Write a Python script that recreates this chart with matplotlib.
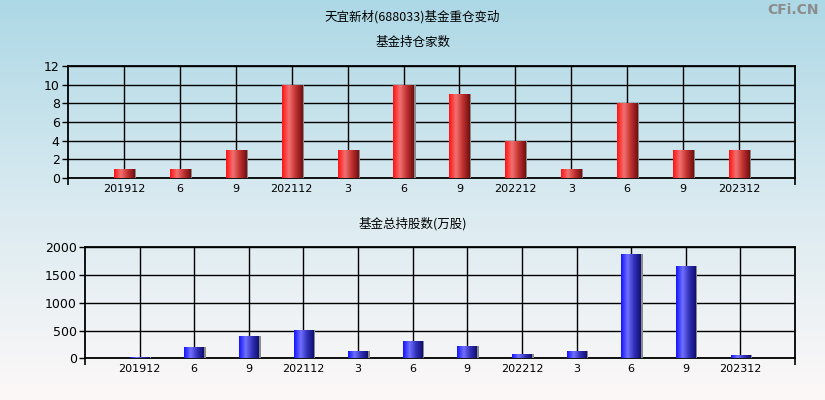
import matplotlib.pyplot as plt
import numpy as np
from matplotlib.colors import LinearSegmentedColormap

plt.rcParams['font.family'] = ['Noto Sans CJK SC', 'DejaVu Sans']

# Data
labels = ['201912', '6', '9', '202112', '3', '6', '9', '202212', '3', '6', '9', '202312']
fund_count = [1, 1, 3, 10, 3, 10, 9, 4, 1, 8, 3, 3]
fund_shares = [25, 210, 400, 510, 130, 310, 220, 75, 130, 1880, 1665, 55]

red_cmap = LinearSegmentedColormap.from_list('r', ['#ff1414', '#f27070', '#c03030', '#701010'])
blue_cmap = LinearSegmentedColormap.from_list('b', ['#1414ff', '#7070ff', '#3030b8', '#101070'])

fig = plt.figure(figsize=(8.25, 4), dpi=100)

# background gradient
bg = fig.add_axes([0, 0, 1, 1], zorder=-10)
grad = np.linspace(0, 1, 256).reshape(-1, 1)
bg_cmap = LinearSegmentedColormap.from_list('bg', ['#add8e6', '#d9eaf0', '#fdf8f8'])
bg.imshow(grad, aspect='auto', cmap=bg_cmap, extent=[0, 1, 0, 1])
bg.axis('off')

fig.text(0.5, 0.957, '天宜新材(688033)基金重仓变动', ha='center', va='center', fontsize=9)
fig.text(0.5, 0.893, '基金持仓家数', ha='center', va='center', fontsize=9)
fig.text(0.5, 0.44, '基金总持股数(万股)', ha='center', va='center', fontsize=9)
fig.text(0.993, 0.975, 'CFi.CN', ha='right', va='center', fontsize=10, color='#8c8c8c',
         weight='bold', family=['DejaVu Sans'])


def gradient_bars(ax, x, vals, cmap, width=0.36):
    bars = ax.bar(x, vals, width=width, color='none', edgecolor='none', zorder=3)
    g = np.linspace(0, 1, 64).reshape(1, -1)
    for b in bars:
        bx, by = b.get_x(), b.get_y()
        w, h = b.get_width(), b.get_height()
        if h <= 0:
            continue
        # thin grey shadow on the right
        ax.bar(bx + w, h, width=0.035, align='edge', color='#8a8a8a', zorder=2.9)
        im = ax.imshow(g, aspect='auto', cmap=cmap, extent=[bx, bx + w, by, by + h], zorder=3)
        im.set_clip_path(b)


def style(ax, ymax, yticks):
    n = len(labels)
    x = np.arange(1, n + 1)
    ax.set_facecolor('none')
    ax.set_xlim(0, n + 1)
    ax.set_ylim(0, ymax)
    ax.set_xticks(x)
    ax.set_xticklabels(labels, fontsize=8, family=['DejaVu Sans'])
    ax.set_xticks([0, n + 1], minor=True)
    ax.tick_params(axis='x', which='major', length=0, pad=4)
    ax.tick_params(axis='x', which='minor', length=5, width=1.2, direction='out')
    ax.set_yticks(yticks)
    ax.set_yticklabels([str(t) for t in yticks], fontsize=9, family=['DejaVu Sans'])
    ax.tick_params(axis='y', length=4, width=1, pad=2)
    ax.grid(True, color='black', linewidth=1.0, zorder=1)
    ax.set_axisbelow(True)
    for s in ax.spines.values():
        s.set_linewidth(1.3)
        s.set_color('black')
    return x


ax1 = fig.add_axes([0.0824, 0.555, 0.8812, 0.28])
x = style(ax1, 12, list(range(0, 13, 2)))
gradient_bars(ax1, x, fund_count, red_cmap)

ax2 = fig.add_axes([0.103, 0.104, 0.8606, 0.2775])
x = style(ax2, 2000, [0, 500, 1000, 1500, 2000])
gradient_bars(ax2, x, fund_shares, blue_cmap)

fig.savefig('out.png', dpi=100)
